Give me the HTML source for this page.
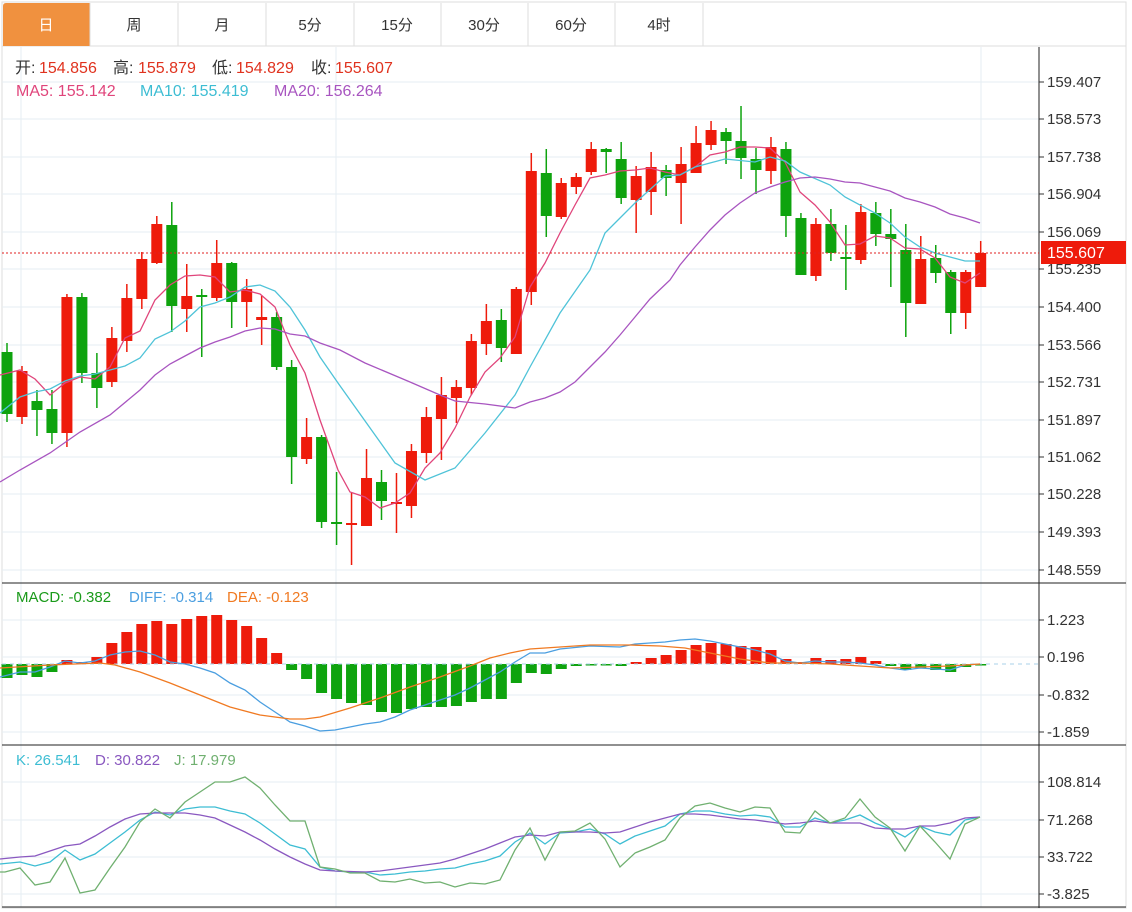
<!DOCTYPE html>
<html><head><meta charset="utf-8">
<style>
body{margin:0;background:#fff;width:1132px;height:912px;overflow:hidden;font-family:"Liberation Sans","Noto Sans CJK SC",sans-serif;}
svg{position:absolute;left:0;top:0}
</style></head><body>
<svg id="s" width="1132" height="912" xmlns="http://www.w3.org/2000/svg" font-family="Liberation Sans, Noto Sans CJK SC, sans-serif">
<rect x="2" y="2" width="1124" height="906" fill="#fff" stroke="#ddd"/>
<line x1="2" y1="46" x2="1126" y2="46" stroke="#ddd"/>
<path d="M6 3 H90 V46 H3 V6 Q3 3 6 3Z" fill="#f0913f"/>
<g stroke="#ddd"><line x1="90" y1="3" x2="90" y2="46"/><line x1="178" y1="3" x2="178" y2="46"/><line x1="266" y1="3" x2="266" y2="46"/><line x1="354" y1="3" x2="354" y2="46"/><line x1="441" y1="3" x2="441" y2="46"/><line x1="528" y1="3" x2="528" y2="46"/><line x1="615" y1="3" x2="615" y2="46"/><line x1="703" y1="3" x2="703" y2="46"/></g>
<g font-size="15" text-anchor="middle" fill="#333">
<text x="46" y="30" fill="#fff">日</text><text x="134" y="30">周</text><text x="222" y="30">月</text><text x="310" y="30">5分</text><text x="397" y="30">15分</text><text x="484" y="30">30分</text><text x="571" y="30">60分</text><text x="659" y="30">4时</text>
</g>
<g id="grid" stroke="#e6edf3" stroke-width="1"></g>
<g id="plot"></g>
<g stroke="#222"><line x1="1039" y1="47" x2="1039" y2="908"/><line x1="2" y1="583" x2="1126" y2="583"/><line x1="2" y1="745" x2="1126" y2="745"/><line x1="2" y1="907" x2="1126" y2="907"/></g>
<g id="ax" font-size="15" fill="#333"></g>
<line x1="2" y1="253" x2="1039" y2="253" stroke="#e02020" stroke-dasharray="2,2"/>
<rect x="1041" y="241" width="85" height="23" fill="#ee1b0b"/>
<text x="1047" y="258" font-size="16" fill="#fff">155.607</text>
<g font-size="16">
<text x="15" y="73" fill="#333">开:</text><text x="39" y="73" fill="#e0321e">154.856</text>
<text x="113" y="73" fill="#333">高:</text><text x="138" y="73" fill="#e0321e">155.879</text>
<text x="212" y="73" fill="#333">低:</text><text x="236" y="73" fill="#e0321e">154.829</text>
<text x="311" y="73" fill="#333">收:</text><text x="335" y="73" fill="#e0321e">155.607</text>
<text x="16" y="96" fill="#e0457b">MA5: 155.142</text>
<text x="140" y="96" fill="#3dbdd3">MA10: 155.419</text>
<text x="274" y="96" fill="#a855c0">MA20: 156.264</text>
</g>
<g font-size="15">
<text x="16" y="602" fill="#1a9a1a">MACD: -0.382</text>
<text x="129" y="602" fill="#4a9ee0">DIFF: -0.314</text>
<text x="227" y="602" fill="#f07a22">DEA: -0.123</text>
<text x="16" y="765" fill="#3dbdd3">K: 26.541</text>
<text x="95" y="765" fill="#8a58c0">D: 30.822</text>
<text x="174" y="765" fill="#70b070">J: 17.979</text>
</g>
</svg>
<script>
var NS="http://www.w3.org/2000/svg";
function el(p,t,a){var e=document.createElementNS(NS,t);for(var k in a)e.setAttribute(k,a[k]);document.getElementById(p).appendChild(e);return e;}
var gy=[82,119,157,194,232,269,307,345,382,420,457,494,532,570,620,657,695,732,782,820,857,894];
gy.forEach(function(y){el("grid","line",{x1:2,y1:y,x2:1039,y2:y});});
[21,336,981].forEach(function(x){el("grid","line",{x1:x,y1:47,x2:x,y2:907});});
var labs=[["159.407",82],["158.573",119],["157.738",157],["156.904",194],["156.069",232],["155.235",269],["154.400",307],["153.566",345],["152.731",382],["151.897",420],["151.062",457],["150.228",494],["149.393",532],["148.559",570],["1.223",620],["0.196",657],["-0.832",695],["-1.859",732],["108.814",782],["71.268",820],["33.722",857],["-3.825",894]];
labs.forEach(function(l){el("ax","line",{x1:1039,y1:l[1],x2:1044,y2:l[1],stroke:"#333"});var t=el("ax","text",{x:1047,y:l[1]+5});t.textContent=l[0];});
var R="#ee1b0b",G="#0ea30e";
var C=[[352,414,343,422,0],[371,417,366,424,1],[401,410,390,436,0],[409,433,390,444,0],[297,433,294,447,1],[297,373,293,383,0],[373,388,353,408,0],[338,382,327,387,1],[298,341,284,352,1],[259,299,252,309,1],[224,263,216,264,1],[225,306,202,332,0],[296,309,264,332,1],[295,297,289,357,0],[263,298,240,301,1],[263,302,262,328,0],[289,302,279,327,1],[317,320,296,345,1],[317,367,312,370,0],[367,457,360,484,0],[437,459,418,464,1],[437,522,435,528,0],[522,524,472,545,0],[523,525,493,565,1],[478,526,449,526,1],[482,501,470,520,0],[502,504,473,533,1],[451,506,444,518,1],[417,453,407,463,1],[395,419,377,460,1],[387,398,380,423,1],[341,388,334,395,1],[321,344,304,355,1],[320,348,309,362,0],[289,354,287,354,1],[171,292,153,305,1],[173,216,149,237,0],[183,217,178,219,1],[177,187,173,194,1],[149,172,142,175,1],[149,152,148,173,0],[159,198,142,204,0],[176,200,166,233,1],[167,192,152,215,1],[170,178,165,196,0],[164,183,147,224,1],[143,173,126,173,1],[130,145,121,150,1],[132,141,128,164,0],[141,158,106,179,0],[159,170,148,194,0],[147,171,137,184,1],[149,216,142,237,0],[218,275,213,275,0],[224,276,218,281,1],[224,253,209,261,0],[257,259,225,290,0],[212,260,204,264,1],[213,234,202,246,0],[234,239,209,287,0],[250,303,224,337,0],[259,304,236,304,1],[258,273,245,283,0],[272,313,270,334,0],[272,313,270,329,1],[253,287,241,287,1]];
var M=[678,675,677,672,660,662,657,643,632,624,621,624,619,616,615,620,626,638,653,670,679,693,699,703,705,712,713,709,707,707,706,702,699,699,683,673,674,669,666,665,665,666,662,658,655,650,645,643,644,646,647,650,659,662,658,660,659,657,661,666,670,668,670,672,667,665];
function X(i){return 7+14.98*i;}
var Z=664;
M.forEach(function(y,i){var x=X(i);var top=Math.min(y,Z),h=Math.max(Math.abs(y-Z),1.5);el("plot","rect",{x:x-5.5,y:y<Z?top:Z,width:11,height:h,fill:y<Z?R:G});});
el("plot","line",{x1:2,y1:Z,x2:1039,y2:Z,stroke:"#a8d0e8","stroke-dasharray":"4,4"});
C.forEach(function(c,i){var x=X(i),col=c[4]?R:G;el("plot","line",{x1:x,y1:c[2],x2:x,y2:c[3],stroke:col,"stroke-width":1.5});var h=Math.max(c[1]-c[0],2);el("plot","rect",{x:x-5.5,y:c[0],width:11,height:h,fill:col});});
function line(pts,col){el("plot","polyline",{points:pts,fill:"none",stroke:col,"stroke-width":1.3});}
line("0,375 20,370 35,379 50,395 65,383 80,377 95,379 110,367 125,338 140,331 155,300 170,285 185,276 200,275 215,277 230,292 245,290 260,294 275,307 290,345 305,373 320,420 338,470 350,492 365,497 380,508 395,503 410,493 425,468 440,453 455,428 470,397 485,372 500,358 515,337 530,287 545,263 560,233 575,205 590,178 605,175 620,171 635,170 650,168 665,172 680,175 695,167 710,155 725,152 740,147 755,147 770,148 785,162 800,192 815,205 830,222 845,245 860,244 875,236 890,238 905,248 920,249 935,258 950,277 965,283 980,273","#e0457b");
line("0,413 20,397 35,392 50,389 65,381 80,376 95,374 110,370 125,366 140,358 155,339 170,332 185,321 200,307 215,303 230,297 245,287 260,285 275,291 290,307 305,330 320,357 338,383 395,463 425,480 455,468 485,433 515,395 530,367 560,313 590,270 605,233 635,203 665,176 680,175 695,167 725,159 755,162 770,157 785,161 800,172 830,185 845,197 875,213 890,223 905,237 920,247 935,253 965,261 980,261","#4fc3d8");
line("0,482 20,470 50,453 80,432 110,415 140,390 155,375 170,364 185,356 200,348 215,342 230,337 245,331 260,328 275,329 290,334 305,336 320,343 340,350 365,363 410,382 440,395 455,401 485,404 515,408 530,402 545,398 560,392 575,382 590,367 605,352 620,335 635,317 650,299 670,280 680,265 695,247 710,230 725,215 740,203 755,193 770,187 785,182 800,178 815,177 830,179 845,182 860,183 875,187 890,191 905,198 920,202 935,207 950,214 965,218 980,223","#a855c0");
line("0,677 20,672 35,672 50,667 65,661 80,663 95,661 110,655 125,652 140,651 155,655 170,662 185,664 200,668 215,673 230,683 245,690 260,702 275,712 290,722 305,726 320,731 335,730 350,727 365,724 380,722 395,717 410,710 425,705 440,700 455,695 470,688 485,680 500,672 515,662 530,653 545,653 560,649 590,646 620,647 635,644 650,643 665,642 680,640 695,639 710,641 725,644 740,647 755,650 770,654 785,661 800,663 815,661 830,662 845,662 860,663 875,665 890,668 905,670 920,668 935,669 950,670 965,665 980,664","#4a9ee0");
line("0,668 50,665 100,663 115,665 140,672 170,683 200,695 230,707 260,715 290,719 305,719 320,717 350,708 380,698 410,687 440,677 470,666 490,658 510,653 530,649 560,647 590,645 630,645 660,646 685,648 710,653 740,659 770,663 800,663 830,664 860,666 890,668 920,667 950,666 980,664","#f07a22");
line("0,864 20,862 35,866 50,862 65,850 80,860 95,854 110,843 125,832 140,820 155,812 170,815 185,809 200,807 215,807 230,811 245,814 260,823 275,834 290,845 305,849 320,867 335,871 350,872 365,872 380,875 395,874 410,872 425,871 440,869 455,868 470,864 485,861 500,856 515,842 530,833 545,844 560,833 575,832 590,829 605,834 620,844 635,836 650,831 665,826 680,814 695,811 710,811 725,814 740,816 755,815 770,817 785,827 800,827 815,818 830,823 845,820 860,815 875,823 890,829 905,837 920,826 935,832 950,835 965,820 980,817","#3dbdd3");
line("0,859 20,857 35,856 50,851 65,846 80,844 95,836 110,827 125,819 140,814 155,813 170,813 185,813 200,815 215,818 230,825 245,832 260,840 275,849 290,857 305,864 320,870 335,871 365,872 380,871 410,867 440,863 455,859 470,854 485,849 500,843 515,837 530,835 545,836 560,832 590,832 605,833 620,832 635,827 650,822 665,818 680,814 695,814 710,815 725,817 740,819 755,820 770,822 785,824 800,823 815,821 830,823 860,823 875,828 890,829 905,829 920,826 935,826 950,823 965,818 980,817","#8a58c0");
line("0,872 5,872 20,868 35,885 50,882 65,858 80,893 95,890 110,868 125,847 140,822 155,809 170,818 185,802 200,792 215,782 230,782 245,777 260,788 275,805 290,821 305,821 320,867 335,869 350,873 365,873 380,881 395,882 410,879 425,883 440,882 455,887 470,883 485,884 500,880 515,850 530,828 545,860 560,832 575,831 590,823 605,839 620,867 635,853 650,847 665,840 680,818 695,806 710,803 725,808 740,812 755,807 770,808 785,832 800,833 815,811 830,823 845,818 860,799 875,817 890,828 905,851 920,826 935,842 950,859 965,824 980,817","#70b070");
</script>
</body></html>
